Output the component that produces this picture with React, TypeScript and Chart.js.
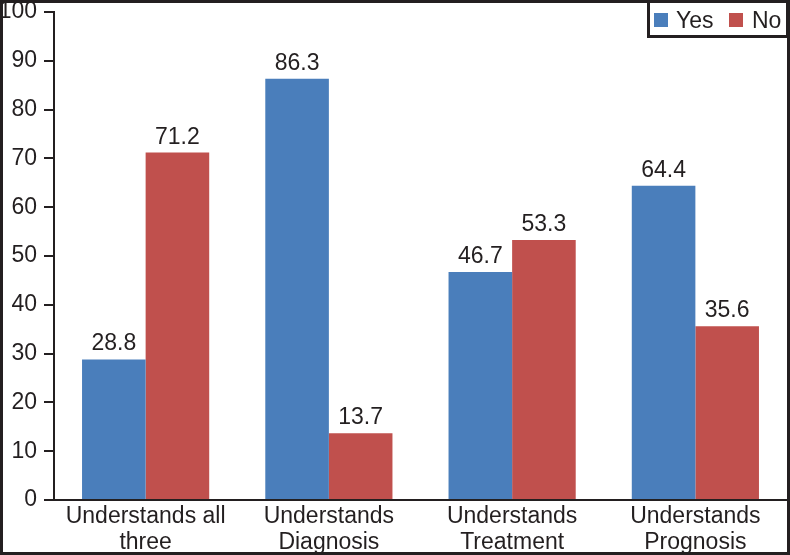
import React, { useEffect, useRef } from "react";
import { Chart, registerables } from "chart.js";

Chart.register(...registerables);

const categories: string[][] = [
  ["Understands all", "three"],
  ["Understands", "Diagnosis"],
  ["Understands", "Treatment"],
  ["Understands", "Prognosis"],
];
const yesValues = [28.8, 86.3, 46.7, 64.4];
const noValues = [71.2, 13.7, 53.3, 35.6];
const seriesNames = ["Yes", "No"];
const seriesColors = ["#4a7ebb", "#c0504d"];

const INK = "#231f20";
const FONT = "'Liberation Sans', Arial, Helvetica, sans-serif";

const labelsPlugin = {
  id: "valueLabels",
  afterDatasetsDraw(chart: any) {
    const ctx = chart.ctx;
    ctx.save();
    ctx.fillStyle = INK;
    ctx.font = `23px ${FONT}`;
    ctx.textAlign = "center";
    ctx.textBaseline = "alphabetic";
    chart.data.datasets.forEach((ds: any, i: number) => {
      const meta = chart.getDatasetMeta(i);
      meta.data.forEach((el: any, j: number) => {
        ctx.fillText(ds.data[j].toFixed(1), el.x, el.y - 9);
      });
    });
    ctx.restore();
  },
};

const legendBorderPlugin = {
  id: "legendBorder",
  afterDraw(chart: any) {
    const ctx = chart.ctx;
    ctx.save();
    // legend box
    ctx.strokeStyle = INK;
    ctx.lineWidth = 3;
    ctx.strokeRect(648.5, 1.5, 139, 35);
    ctx.font = `23px ${FONT}`;
    ctx.textBaseline = "alphabetic";
    ctx.textAlign = "left";
    const items = [
      { x: 654, tx: 676 },
      { x: 729, tx: 752 },
    ];
    items.forEach((it, i) => {
      ctx.fillStyle = seriesColors[i];
      ctx.fillRect(it.x, 13, 14, 14);
      ctx.fillStyle = INK;
      ctx.fillText(seriesNames[i], it.tx, 28);
    });
    // outer frame
    ctx.lineWidth = 3;
    ctx.strokeRect(1.5, 1.5, chart.width - 3, chart.height - 3);
    ctx.restore();
  },
};

export default function App() {
  const ref = useRef<HTMLCanvasElement>(null);
  useEffect(() => {
    document.body.style.margin = "0";
    const chart = new Chart(ref.current as HTMLCanvasElement, {
      type: "bar",
      data: {
        labels: categories,
        datasets: [
          {
            label: seriesNames[0],
            data: yesValues,
            backgroundColor: seriesColors[0],
            borderWidth: 0,
          },
          {
            label: seriesNames[1],
            data: noValues,
            backgroundColor: seriesColors[1],
            borderWidth: 0,
          },
        ],
      },
      options: {
        responsive: false,
        animation: false,
        devicePixelRatio: 1,
        layout: { padding: { top: 12, left: 0, right: 3, bottom: 3 } },
        datasets: {
          bar: { categoryPercentage: 0.694, barPercentage: 1.0 },
        },
        plugins: {
          legend: { display: false },
          tooltip: { enabled: false },
        },
        scales: {
          x: {
            grid: { display: false, drawTicks: false },
            border: { display: true, color: INK, width: 2 },
            ticks: {
              color: INK,
              font: { family: FONT, size: 23, lineHeight: 1.13 },
              padding: 4,
              maxRotation: 0,
              autoSkip: false,
            },
            afterFit(scale: any) {
              scale.height = 52;
              scale.paddingLeft = 0;
              scale.paddingRight = 0;
            },
          },
          y: {
            min: 0,
            max: 100,
            grid: {
              display: true,
              drawOnChartArea: false,
              drawTicks: true,
              tickLength: 10,
              color: INK,
              lineWidth: 2,
            },
            border: { display: true, color: INK, width: 2 },
            ticks: {
              stepSize: 10,
              color: INK,
              font: { family: FONT, size: 23 },
              padding: 7,
            },
            afterFit(scale: any) {
              scale.width = 54;
              scale.paddingTop = 0;
              scale.paddingBottom = 0;
            },
          },
        },
      },
      plugins: [labelsPlugin, legendBorderPlugin],
    } as any);
    return () => chart.destroy();
  }, []);
  return <canvas ref={ref} width={790} height={555} style={{ display: "block" }} />;
}
